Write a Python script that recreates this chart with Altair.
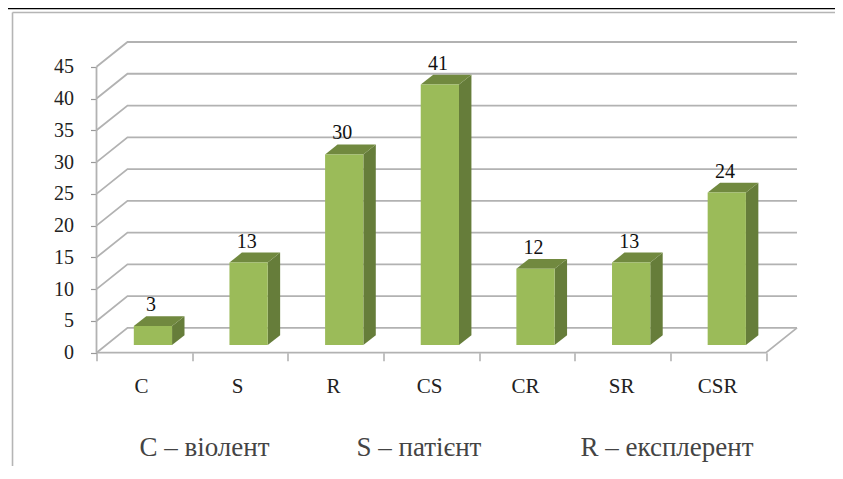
import altair as alt
import pandas as pd

categories = ["C", "S", "R", "CS", "CR", "SR", "CSR"]
values = [3, 13, 30, 41, 12, 13, 24]
y_ticks = [0, 5, 10, 15, 20, 25, 30, 35, 40, 45]
legend_labels = ["C – віолент", "S – патієнт", "R – експлерент"]

# layout constants (units of the chart's own scales)
WALL_DX, WALL_DY = 0.324, 3.9
BAR_START, BAR_W = 0.39, 0.40
BAR_DX, BAR_DY = 0.13, 1.55
BAR_BASE = 1.2
FONT = "Liberation Serif"
GRID = "#b2b2b2"

x_scale = alt.Scale(domain=[0, 7 + WALL_DX], nice=False, zero=False)
y_scale = alt.Scale(domain=[0, 45 + WALL_DY], nice=False, zero=False)

front, side, top, lab = [], [], [], []
for i, (c, v) in enumerate(zip(categories, values)):
    x0 = i + BAR_START
    x1 = x0 + BAR_W
    b = BAR_BASE
    t = v + b
    front.append(dict(cat=c, x=x0, x2=x1, y=b, y2=t))
    side += [dict(cat=c, x=x1, y=b, y2=t),
             dict(cat=c, x=x1 + BAR_DX, y=b + BAR_DY, y2=t + BAR_DY)]
    top += [dict(cat=c, x=x0, y=t, y2=t),
            dict(cat=c, x=x0 + BAR_DX, y=t, y2=t + BAR_DY),
            dict(cat=c, x=x1, y=t, y2=t + BAR_DY),
            dict(cat=c, x=x1 + BAR_DX, y=t + BAR_DY, y2=t + BAR_DY)]
    lab.append(dict(cat=c, v=v, x=(x0 + x1) / 2 - 0.02, y=t + BAR_DY + 1.75))

grid = []
for g in y_ticks:
    grid += [dict(g=g, o=0, x=0, y=g),
             dict(g=g, o=1, x=WALL_DX, y=g + WALL_DY),
             dict(g=g, o=2, x=7 + WALL_DX, y=g + WALL_DY)]
grid += [dict(g=-1, o=0, x=0, y=0), dict(g=-1, o=1, x=7, y=0),
         dict(g=-1, o=2, x=7 + WALL_DX, y=WALL_DY)]
grid += [dict(g=-2, o=0, x=0, y=0), dict(g=-2, o=1, x=0, y=45)]

x_axis = alt.Axis(values=list(range(8)), labels=False, title=None, domain=False,
                  grid=False, tickColor="#999999", tickSize=8, tickWidth=1.2)
y_axis = alt.Axis(values=y_ticks, title=None, domain=False, grid=False,
                  tickColor="#999999", tickSize=6, tickWidth=1.2, labelPadding=17,
                  labelOverlap=False, labelSeparation=0, labelFont=FONT, labelFontSize=20,
                  labelColor="#222222")

X = lambda: alt.X("x:Q", scale=x_scale, axis=x_axis)
Y = lambda: alt.Y("y:Q", scale=y_scale, axis=y_axis)

axes = alt.Chart(pd.DataFrame(grid)).mark_line(color=GRID, strokeWidth=1.8, clip=False).encode(
    x=X(), y=Y(), detail="g:N", order="o:Q",
)

side_l = alt.Chart(pd.DataFrame(side)).mark_area(color="#667d3a", line=False).encode(
    x=X(), y=Y(), y2="y2:Q", detail="cat:N")
top_l = alt.Chart(pd.DataFrame(top)).mark_area(color="#71893f", line=False).encode(
    x=X(), y=Y(), y2="y2:Q", detail="cat:N")
front_l = alt.Chart(pd.DataFrame(front)).mark_rect(color="#9bbb59").encode(
    x=X(), x2="x2:Q", y=Y(), y2="y2:Q")
labels = alt.Chart(pd.DataFrame(lab)).mark_text(
    font=FONT, fontSize=20, color="#111111", baseline="middle").encode(
    x=X(), y=Y(), text="v:Q")

cat_df = pd.DataFrame(dict(cat=categories, x=[i * 1.004 + 0.47 for i in range(7)]))
cats = alt.Chart(cat_df).mark_text(
    font=FONT, fontSize=21, color="#222222", baseline="middle").encode(
    x=X(), y=alt.value(345), text="cat:N")

layers = [axes, side_l, top_l, front_l, labels, cats]

for txt, px in zip(legend_labels, [108, 322.5, 570.5]):
    layers.append(alt.Chart(pd.DataFrame(dict(t=[txt]))).mark_text(
        font=FONT, fontSize=27, color="#444444", baseline="middle").encode(
        x=alt.value(px), y=alt.value(406), text="t:N"))

# picture frame
frame_df = pd.DataFrame(dict(k=[1]))
layers.append(alt.Chart(frame_df).mark_rule(color="#b5b5b5", strokeWidth=1.6).encode(
    x=alt.value(-84), y=alt.value(-29.5), y2=alt.value(440)))
layers.append(alt.Chart(frame_df).mark_rule(color="#b5b5b5", strokeWidth=1.6).encode(
    x=alt.value(-84), x2=alt.value(750), y=alt.value(-29.5)))
layers.append(alt.Chart(frame_df).mark_rule(color="#000000", strokeWidth=1.5).encode(
    x=alt.value(-88.5), x2=alt.value(750), y=alt.value(-33.5)))

chart = alt.layer(*layers).resolve_scale(x="shared", y="shared").properties(
    width=700.5, height=310.7,
    autosize=alt.AutoSizeParams(type="none"),
    padding={"left": 88.5, "top": 34, "right": 38, "bottom": 113},
    background="white",
).configure_view(stroke=None).configure_axis(labelOverlap=False)

chart.save("out.html", embed_options={"renderer": "svg", "actions": False})
